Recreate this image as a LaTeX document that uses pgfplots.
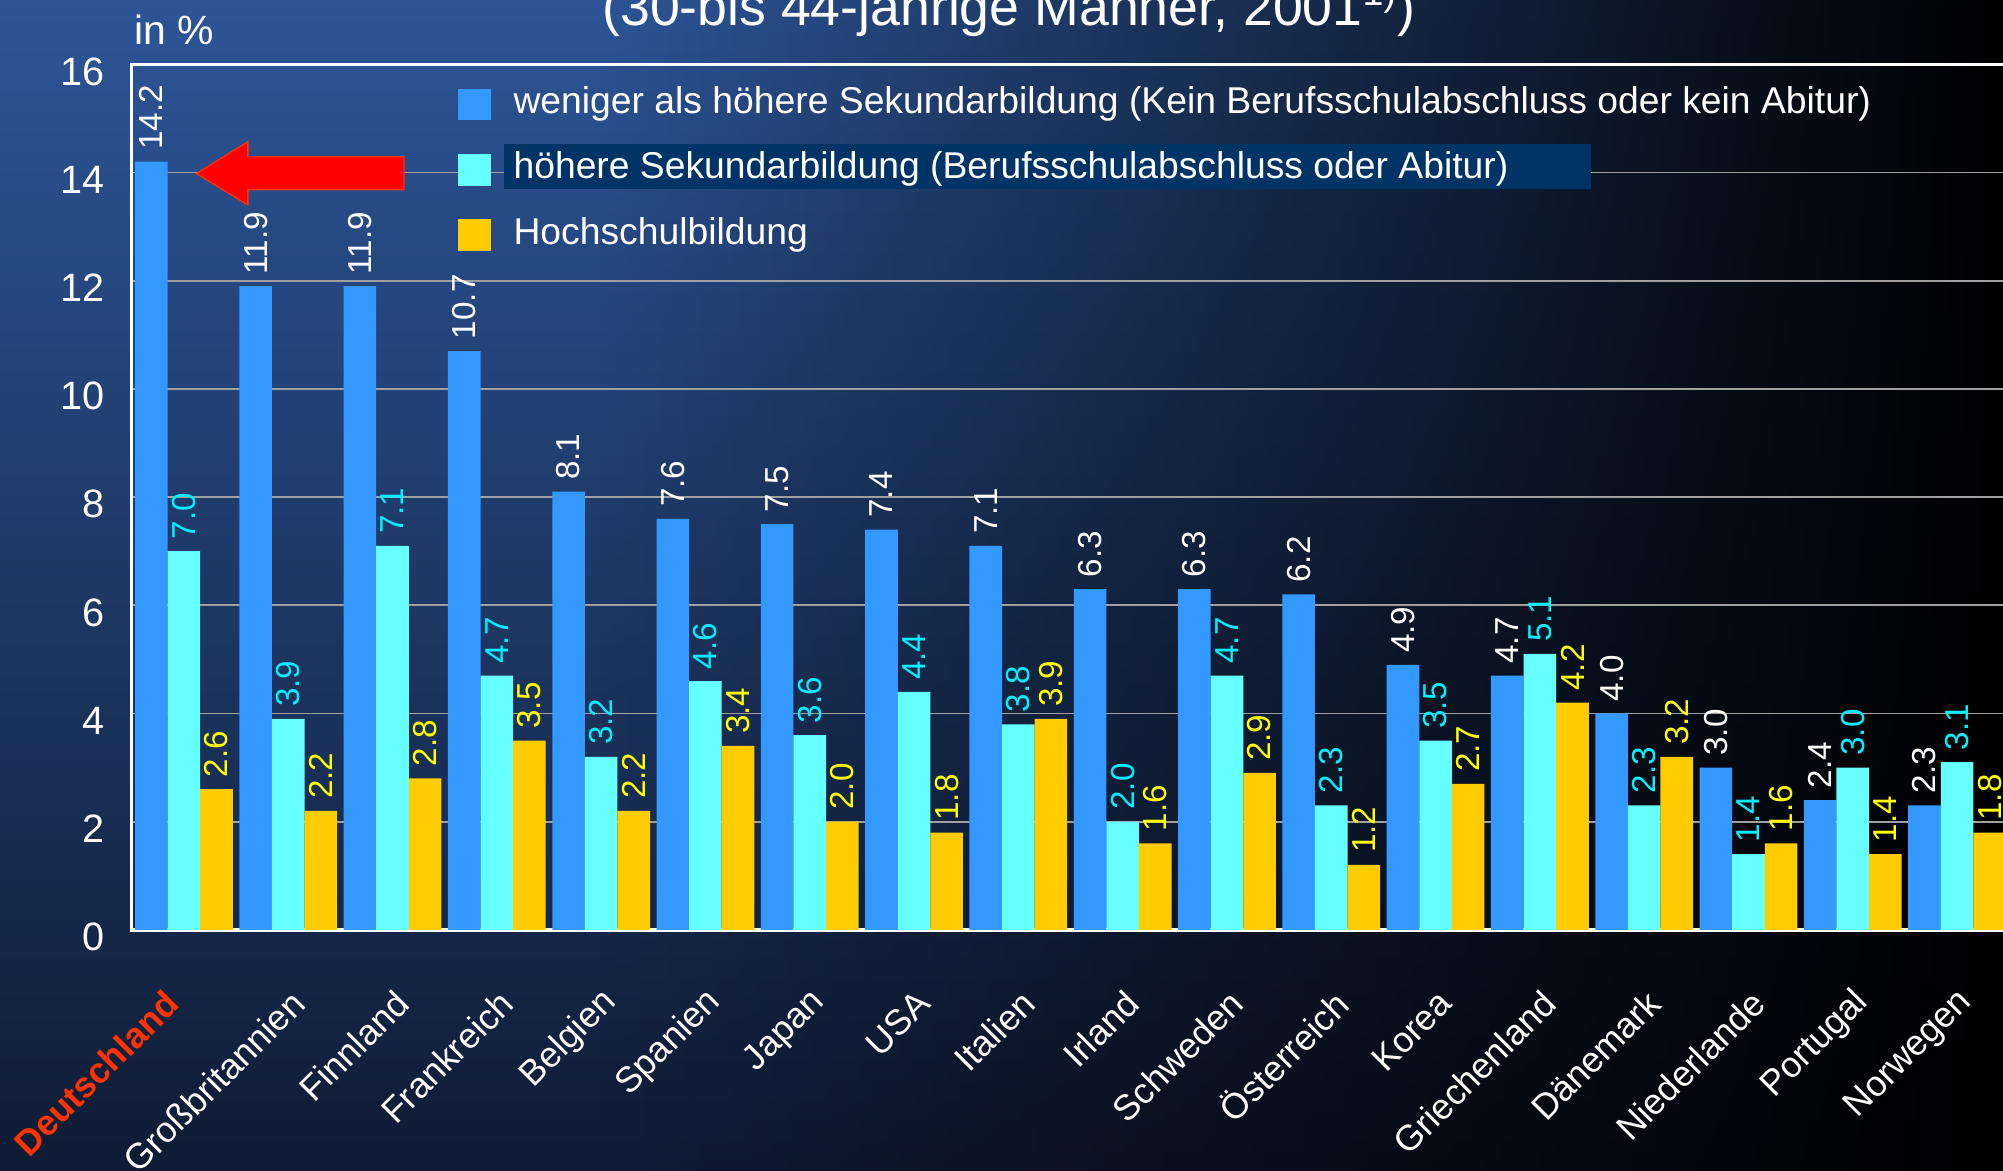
\documentclass[border=0pt]{standalone}
\usepackage{pgfplots}
\pgfplotsset{compat=1.18}
\usepackage{pgfplotstable}
\usepackage{fontspec}
\setmainfont{Liberation Sans}
\usetikzlibrary{fadings}
\definecolor{barblue}{HTML}{3399FF}
\definecolor{barcyan}{HTML}{66FFFF}
\definecolor{baryellow}{HTML}{FFCC00}
\definecolor{lblcyan}{HTML}{00F0FF}
\definecolor{lblyellow}{HTML}{FFFF00}
\definecolor{bgtop}{HTML}{2D5597}
\definecolor{bgbot}{HTML}{0F1B34}
\definecolor{legbg}{HTML}{003366}
\definecolor{gridgray}{HTML}{A0A0A0}
\definecolor{deured}{HTML}{FF3300}
\tikzfading[name=fadeR, left color=transparent!100, middle color=transparent!70, right color=transparent!0]

\pgfplotstableread{
x a b c
0 14.2 7.0 2.6
1 11.9 3.9 2.2
2 11.9 7.1 2.8
3 10.7 4.7 3.5
4 8.1 3.2 2.2
5 7.6 4.6 3.4
6 7.5 3.6 2.0
7 7.4 4.4 1.8
8 7.1 3.8 3.9
9 6.3 2.0 1.6
10 6.3 4.7 2.9
11 6.2 2.3 1.2
12 4.9 3.5 2.7
13 4.7 5.1 4.2
14 4.0 2.3 3.2
15 3.0 1.4 1.6
16 2.4 3.0 1.4
17 2.3 3.1 1.8
}\datatable

\begin{document}
\begin{tikzpicture}
\shade[top color=bgtop, bottom color=bgbot] (0,0) rectangle (784.3pt,458.5pt);
\fill[black, path fading=fadeR] (235pt,0) rectangle (784.3pt,458.5pt);
\useasboundingbox (0,0) rectangle (784.3pt,458.5pt);
\begin{axis}[
  at={(51.6pt,94.4pt)}, anchor=south west,
  scale only axis, width=735.7pt, height=338.9pt,
  xmin=-0.5, xmax=17.514, ymin=0, ymax=16,
  ybar, bar width=0.3125,
  axis line style={white, line width=1.3pt},
  tick style={draw=none},
  ymajorgrids, grid style={gridgray, line width=0.7pt},
  ytick={0,2,...,16},
  /pgf/number format/assume math mode=true,
  yticklabel style={text=white, font=\fontsize{15.5pt}{18pt}\selectfont, inner sep=0pt, xshift=-10.5pt, yshift=-2.8pt},
  xtick={0,...,17},
  xticklabels={{\raisebox{6pt}[\height][\depth]{\textcolor{deured}{\textbf{Deutschland}}}\kern6pt},Großbritannien,Finnland,Frankreich,Belgien,Spanien,Japan,USA,Italien,Irland,Schweden,Österreich,Korea,Griechenland,Dänemark,Niederlande,Portugal,Norwegen},
  xticklabel style={text=white, font=\fontsize{14pt}{16pt}\selectfont, inner sep=0pt, xshift=4pt, yshift=-22pt, rotate=45, anchor=east},
  nodes near coords={\pgfmathprintnumber[fixed, fixed zerofill, precision=1]{\pgfplotspointmeta}},
  every node near coord/.append style={font=\fontsize{13pt}{15pt}\selectfont, inner sep=0pt, yshift=4.5pt, rotate=90, anchor=west},
  legend style={at={(rel axis cs:0.1733,0.975)}, anchor=north west, draw=none, fill=none, text=white,
    font=\fontsize{14.6pt}{17pt}\selectfont, row sep=11.6pt, inner sep=0pt,
    nodes={inner sep=0pt, text height=10.5pt, text depth=3.5pt},
    /tikz/every odd column/.append style={column sep=9pt}},
  legend cell align=left,
  legend image code/.code={\fill[#1, draw=none] (0pt,-6.2pt) rectangle (12.8pt,6.2pt);},
]
\addplot[fill=barblue, draw=none, bar shift=-0.3125, every node near coord/.append style={text=white}] table[x=x, y=a] {\datatable};
\addplot[fill=barcyan, draw=none, bar shift=0, every node near coord/.append style={text=lblcyan}] table[x=x, y=b] {\datatable};
\addplot[fill=baryellow, draw=none, bar shift=0.3125, every node near coord/.append style={text=lblyellow}] table[x=x, y=c] {\datatable};
\addlegendentry{weniger als höhere Sekundarbildung (Kein Berufsschulabschluss oder kein Abitur)}
\addlegendentry{\rlap{\hspace*{-3.9pt}\smash{\textcolor{legbg}{\rule[-4pt]{425.6pt}{17.6pt}}}}höhere Sekundarbildung (Berufsschulabschluss oder Abitur)}
\addlegendentry{Hochschulbildung}
\filldraw[fill=red, draw=deured, line width=0.5pt] (axis cs:0.12,13.98) -- (axis cs:0.613,14.57) -- (axis cs:0.613,14.29) -- (axis cs:2.11,14.29) -- (axis cs:2.11,13.68) -- (axis cs:0.613,13.68) -- (axis cs:0.613,13.40) -- cycle;
\end{axis}
\node[anchor=base, text=white, font=\fontsize{21pt}{24pt}\selectfont] at (395pt,448.7pt) {(30-bis 44-jährige Männer, 2001\textsuperscript{1)})};
\node[anchor=base west, text=white, font=\fontsize{16pt}{19pt}\selectfont, inner sep=0pt] at (52.5pt,440.9pt) {in \%};
\end{tikzpicture}
\end{document}
